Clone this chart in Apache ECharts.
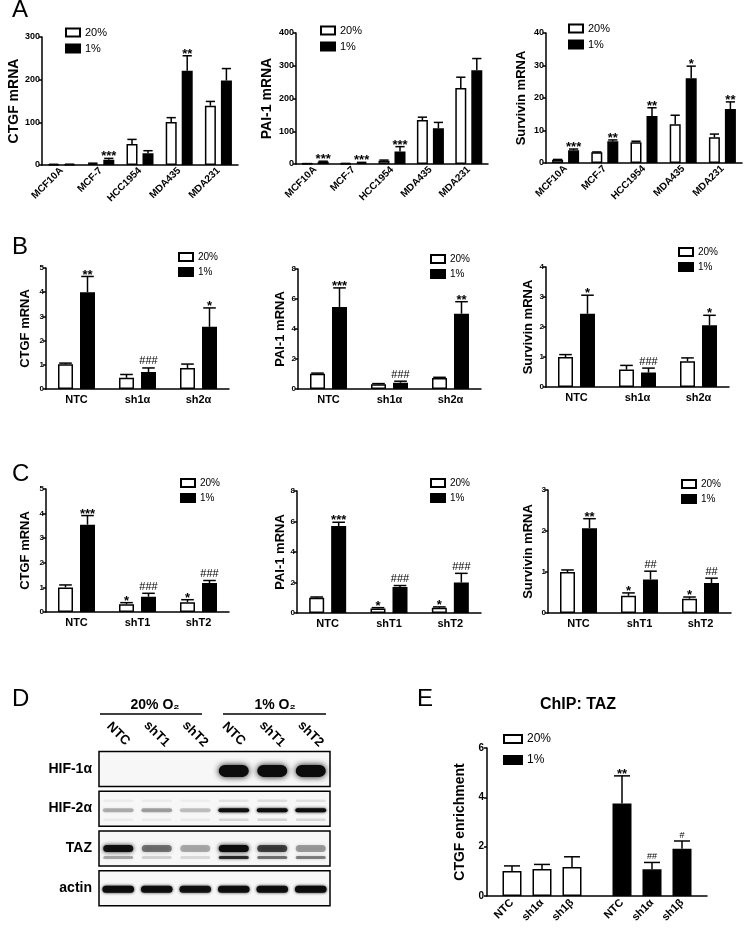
<!DOCTYPE html>
<html><head><meta charset="utf-8">
<script src="https://cdn.jsdelivr.net/npm/echarts@6/dist/echarts.min.js"></script>
<style>html,body{margin:0;padding:0;background:#fff}#c{width:750px;height:939px}</style>
</head><body><div id="c"></div>
<script>
const FONT = '"Liberation Sans", Arial, Helvetica, sans-serif';
const legendNames = ['20%', '1%'];

// ---------- Panel A ----------
const catA = ['MCF10A', 'MCF-7', 'HCC1954', 'MDA435', 'MDA231'];
const A_ctgf_20 = [1.2, 3.5, 49, 101, 139];
const A_ctgf_20_err = [0.4, 0.8, 11, 10, 10];
const A_ctgf_1 = [1.5, 12.5, 27.5, 221, 198];
const A_ctgf_1_err = [0.4, 3, 6, 35, 28];
const A_ctgf_sig20 = ['', '', '', '', ''];
const A_ctgf_sig1 = ['', '***', '', '**', ''];

const A_pai_20 = [1, 1.5, 10, 134, 232];
const A_pai_20_err = [0.3, 0.3, 2, 9, 33];
const A_pai_1 = [7, 4, 38, 109, 286];
const A_pai_1_err = [1.5, 1, 15, 18, 36];
const A_pai_sig20 = ['', '', '', '', ''];
const A_pai_sig1 = ['***', '***', '***', '', ''];

const A_surv_20 = [1, 3.3, 6.4, 11.9, 7.9];
const A_surv_20_err = [0.1, 0.1, 0.3, 2.8, 1];
const A_surv_1 = [3.9, 6.7, 14.5, 26.1, 16.6];
const A_surv_1_err = [0.4, 0.4, 2.5, 3.7, 2.2];
const A_surv_sig20 = ['', '', '', '', ''];
const A_surv_sig1 = ['***', '**', '**', '*', '**'];

// ---------- Panel B ----------
const catB = ['NTC', 'sh1α', 'sh2α'];
const B_ctgf_20 = [1.02, 0.46, 0.87];
const B_ctgf_20_err = [0.05, 0.14, 0.16];
const B_ctgf_1 = [4.0, 0.7, 2.57];
const B_ctgf_1_err = [0.65, 0.17, 0.78];
const B_ctgf_sig20 = ['', '', ''];
const B_ctgf_sig1 = ['**', '###', '*'];

const B_pai_20 = [1.02, 0.31, 0.73];
const B_pai_20_err = [0.04, 0.05, 0.05];
const B_pai_1 = [5.47, 0.42, 5.02];
const B_pai_1_err = [1.27, 0.1, 0.8];
const B_pai_sig20 = ['', '', ''];
const B_pai_sig1 = ['***', '###', '**'];

const B_surv_20 = [1.0, 0.58, 0.86];
const B_surv_20_err = [0.08, 0.14, 0.11];
const B_surv_1 = [2.44, 0.48, 2.06];
const B_surv_1_err = [0.62, 0.15, 0.33];
const B_surv_sig20 = ['', '', ''];
const B_surv_sig1 = ['*', '###', '*'];

// ---------- Panel C ----------
const catC = ['NTC', 'shT1', 'shT2'];
const C_ctgf_20 = [1.0, 0.32, 0.4];
const C_ctgf_20_err = [0.1, 0.06, 0.1];
const C_ctgf_1 = [3.55, 0.62, 1.18];
const C_ctgf_1_err = [0.37, 0.14, 0.1];
const C_ctgf_sig20 = ['', '*', '*'];
const C_ctgf_sig1 = ['***', '###', '###'];

const C_pai_20 = [1.0, 0.3, 0.35];
const C_pai_20_err = [0.05, 0.05, 0.05];
const C_pai_1 = [5.7, 1.7, 2.0];
const C_pai_1_err = [0.25, 0.1, 0.6];
const C_pai_sig20 = ['', '*', '*'];
const C_pai_sig1 = ['***', '###', '###'];

const C_surv_20 = [1.0, 0.42, 0.35];
const C_surv_20_err = [0.05, 0.07, 0.04];
const C_surv_1 = [2.07, 0.82, 0.73];
const C_surv_1_err = [0.23, 0.2, 0.12];
const C_surv_sig20 = ['', '*', '*'];
const C_surv_sig1 = ['**', '##', '##'];

// ---------- Panel D (western blot band intensities, 0..1) ----------
const lanes = ['NTC', 'shT1', 'shT2', 'NTC', 'shT1', 'shT2'];
const blotRows = ['HIF-1α', 'HIF-2α', 'TAZ', 'actin'];
const hif1aBand = [0.0, 0.0, 0.0, 1.0, 1.0, 1.0];
const hif2aBand = [0.28, 0.33, 0.22, 0.95, 1.0, 1.0];
const hif2aFaintUp = [0.05, 0.05, 0.04, 0.08, 0.1, 0.09];
const hif2aFaintLow = [0.05, 0.05, 0.05, 0.12, 0.14, 0.12];
const tazUpper = [0.95, 0.5, 0.3, 1.0, 0.7, 0.35];
const tazLower = [0.3, 0.15, 0.12, 0.8, 0.5, 0.45];
const actinBand = [1.0, 0.95, 0.92, 0.95, 0.95, 1.0];

// ---------- Panel E ----------
const E_names = ['NTC', 'sh1α', 'sh1β'];
const E_20 = [1.01, 1.09, 1.18];
const E_20_err = [0.21, 0.19, 0.41];
const E_1 = [3.75, 1.08, 1.92];
const E_1_err = [1.12, 0.28, 0.31];
const E_sig20 = ['', '', ''];
const E_sig1 = ['**', '##', '#'];

// ================= build option =================
const option = {
  animation: false, backgroundColor: '#fff',
  textStyle: { fontFamily: FONT },
  grid: [], xAxis: [], yAxis: [], series: [], legend: [], graphic: []
};

const white = { color: '#fff', borderColor: '#000', borderWidth: 1.5 };
const black = { color: '#000', borderColor: '#000', borderWidth: 1.5 };

function errSeries(gi, items, sigs, off, cap, sz) {
  return {
    type: 'custom', xAxisIndex: gi, yAxisIndex: gi, z: 5, silent: true, clip: false,
    data: items,
    renderItem: function (params, api) {
      const c = api.value(0), v = api.value(1), e = api.value(2), s = api.value(3);
      const p0 = api.coord([c, v]), p1 = api.coord([c, v + e]);
      const x = p0[0] + off[s];
      const ch = [];
      if (e > 0) {
        ch.push({ type: 'line', shape: { x1: x, y1: p0[1], x2: x, y2: p1[1] }, style: { stroke: '#000', lineWidth: 1.5 } });
        ch.push({ type: 'line', shape: { x1: x - cap, y1: p1[1], x2: x + cap, y2: p1[1] }, style: { stroke: '#000', lineWidth: 1.5 } });
      }
      const t = sigs[params.dataIndex];
      if (t) {
        const hash = t[0] === '#';
        ch.push({ type: 'text', style: {
          text: t, x: x, y: p1[1] + (hash ? -1 : 5), align: 'center', verticalAlign: 'bottom',
          fontSize: hash ? sz.hash : sz.star, fontWeight: hash ? 'normal' : 'bold', fontFamily: FONT, fill: '#000'
        } });
      }
      return { type: 'group', children: ch };
    }
  };
}

function addGrouped(p) {
  const gi = option.grid.length;
  option.grid.push({ left: p.left, top: p.top, width: p.width, height: p.height });
  option.xAxis.push({
    type: 'category', gridIndex: gi, data: p.cats,
    axisLine: { lineStyle: { color: '#000', width: 1.5 } },
    axisTick: { alignWithLabel: true, length: 3, lineStyle: { color: '#000', width: 1.5 } },
    axisLabel: { interval: 0, rotate: p.rotate, fontSize: p.xfs, fontWeight: 'bold', color: '#000', margin: p.xm, fontFamily: FONT }
  });
  option.yAxis.push({
    type: 'value', gridIndex: gi, min: 0, max: p.max, interval: p.interval,
    name: p.name, nameLocation: 'middle', nameGap: p.nameGap,
    nameTextStyle: { fontSize: p.nfs, fontWeight: 'bold', color: '#000', fontFamily: FONT },
    axisLine: { show: true, lineStyle: { color: '#000', width: 1.5 } },
    axisTick: { show: true, length: 3, lineStyle: { color: '#000', width: 1.5 } },
    axisLabel: { fontSize: p.yfs, fontWeight: 'bold', color: '#000', margin: 2, fontFamily: FONT },
    splitLine: { show: false }
  });
  const gapPct = (p.gap / p.bw * 100) + '%';
  option.series.push({ type: 'bar', name: '20%', xAxisIndex: gi, yAxisIndex: gi, data: p.v20, barWidth: p.bw, barGap: gapPct, itemStyle: white, silent: true });
  option.series.push({ type: 'bar', name: '1%', xAxisIndex: gi, yAxisIndex: gi, data: p.v1, barWidth: p.bw, barGap: gapPct, itemStyle: black, silent: true });
  const items = [], sigs = [];
  p.cats.forEach((c, j) => {
    items.push([j, p.v20[j], p.e20[j], 0]); sigs.push(p.s20[j]);
    items.push([j, p.v1[j], p.e1[j], 1]); sigs.push(p.s1[j]);
  });
  const h = (p.bw + p.gap) / 2;
  option.series.push(errSeries(gi, items, sigs, [-h, h], p.bw * 0.42, { star: 13, hash: 11 }));
  option.legend.push({
    left: p.lg[0], top: p.lg[1], orient: 'vertical', padding: 0,
    itemWidth: 14, itemHeight: 8, itemGap: 5, selectedMode: false, icon: 'rect',
    data: legendNames, textStyle: { fontSize: p.lfs, color: '#000', fontFamily: FONT }
  });
}

const rowA = { rotate: 45, xfs: 10, xm: 4, yfs: 9, bw: 11, gap: 5, lfs: 11 };
const rowBC = { rotate: 0, xfs: 11, xm: 5, yfs: 8, bw: 15, gap: 7, lfs: 10 };

addGrouped(Object.assign({}, rowA, { left: 42, top: 37, width: 196, height: 128, cats: catA, max: 300, interval: 100,
  name: 'CTGF mRNA', nameGap: 18, nfs: 14, v20: A_ctgf_20, e20: A_ctgf_20_err, v1: A_ctgf_1, e1: A_ctgf_1_err,
  s20: A_ctgf_sig20, s1: A_ctgf_sig1, lg: [65, 27] }));
addGrouped(Object.assign({}, rowA, { left: 296, top: 33, width: 192, height: 131, cats: catA, max: 400, interval: 100,
  name: 'PAI-1 mRNA', nameGap: 22, nfs: 14, v20: A_pai_20, e20: A_pai_20_err, v1: A_pai_1, e1: A_pai_1_err,
  s20: A_pai_sig20, s1: A_pai_sig1, lg: [320, 25] }));
addGrouped(Object.assign({}, rowA, { left: 546, top: 33, width: 196, height: 130, cats: catA, max: 40, interval: 10,
  name: 'Survivin mRNA', nameGap: 18, nfs: 13, v20: A_surv_20, e20: A_surv_20_err, v1: A_surv_1, e1: A_surv_1_err,
  s20: A_surv_sig20, s1: A_surv_sig1, lg: [568, 23] }));

addGrouped(Object.assign({}, rowBC, { left: 46, top: 268, width: 183, height: 121, cats: catB, max: 5, interval: 1,
  name: 'CTGF mRNA', nameGap: 14, nfs: 13, v20: B_ctgf_20, e20: B_ctgf_20_err, v1: B_ctgf_1, e1: B_ctgf_1_err,
  s20: B_ctgf_sig20, s1: B_ctgf_sig1, lg: [178, 252] }));
addGrouped(Object.assign({}, rowBC, { left: 298, top: 269, width: 183, height: 120, cats: catB, max: 8, interval: 2,
  name: 'PAI-1 mRNA', nameGap: 11, nfs: 13, v20: B_pai_20, e20: B_pai_20_err, v1: B_pai_1, e1: B_pai_1_err,
  s20: B_pai_sig20, s1: B_pai_sig1, lg: [430, 254] }));
addGrouped(Object.assign({}, rowBC, { left: 546, top: 267, width: 183, height: 120, cats: catB, max: 4, interval: 1,
  name: 'Survivin mRNA', nameGap: 11, nfs: 13, v20: B_surv_20, e20: B_surv_20_err, v1: B_surv_1, e1: B_surv_1_err,
  s20: B_surv_sig20, s1: B_surv_sig1, lg: [678, 247] }));

addGrouped(Object.assign({}, rowBC, { left: 46, top: 489, width: 183, height: 123, cats: catC, max: 5, interval: 1,
  name: 'CTGF mRNA', nameGap: 14, nfs: 13, v20: C_ctgf_20, e20: C_ctgf_20_err, v1: C_ctgf_1, e1: C_ctgf_1_err,
  s20: C_ctgf_sig20, s1: C_ctgf_sig1, lg: [180, 478] }));
addGrouped(Object.assign({}, rowBC, { left: 297, top: 491, width: 184, height: 122, cats: catC, max: 8, interval: 2,
  name: 'PAI-1 mRNA', nameGap: 10, nfs: 13, v20: C_pai_20, e20: C_pai_20_err, v1: C_pai_1, e1: C_pai_1_err,
  s20: C_pai_sig20, s1: C_pai_sig1, lg: [430, 478] }));
addGrouped(Object.assign({}, rowBC, { left: 548, top: 490, width: 183, height: 123, cats: catC, max: 3, interval: 1,
  name: 'Survivin mRNA', nameGap: 13, nfs: 13, v20: C_surv_20, e20: C_surv_20_err, v1: C_surv_1, e1: C_surv_1_err,
  s20: C_surv_sig20, s1: C_surv_sig1, lg: [681, 479] }));

// ---------- Panel E (slot-based category axis to reproduce the grouped spacing) ----------
(function () {
  const nSlots = 22, slot20 = [2, 5, 8], slot1 = [13, 16, 19];
  const slots = new Array(nSlots).fill('');
  const d20 = new Array(nSlots).fill(null), d1 = new Array(nSlots).fill(null);
  const items = [], sigs = [];
  E_names.forEach((n, j) => {
    slots[slot20[j]] = n; slots[slot1[j]] = n;
    d20[slot20[j]] = E_20[j]; d1[slot1[j]] = E_1[j];
    items.push([slot20[j], E_20[j], E_20_err[j], 0]); sigs.push(E_sig20[j]);
    items.push([slot1[j], E_1[j], E_1_err[j], 1]); sigs.push(E_sig1[j]);
  });
  const gi = option.grid.length;
  const hasLabel = (i, v) => v !== '';
  option.grid.push({ left: 487, top: 748, width: 220, height: 148 });
  option.xAxis.push({
    type: 'category', gridIndex: gi, data: slots,
    axisLine: { lineStyle: { color: '#000', width: 1.5 } },
    axisTick: { alignWithLabel: true, interval: hasLabel, length: 3, lineStyle: { color: '#000', width: 1.5 } },
    axisLabel: { interval: hasLabel, rotate: 45, fontSize: 11, fontWeight: 'bold', color: '#000', margin: 5, fontFamily: FONT }
  });
  option.yAxis.push({
    type: 'value', gridIndex: gi, min: 0, max: 6, interval: 2,
    name: 'CTGF enrichment', nameLocation: 'middle', nameGap: 20,
    nameTextStyle: { fontSize: 14, fontWeight: 'bold', color: '#000', fontFamily: FONT },
    axisLine: { show: true, lineStyle: { color: '#000', width: 1.5 } },
    axisTick: { show: true, length: 3, lineStyle: { color: '#000', width: 1.5 } },
    axisLabel: { fontSize: 10, fontWeight: 'bold', color: '#000', margin: 3, fontFamily: FONT },
    splitLine: { show: false }
  });
  option.series.push({ type: 'bar', name: '20%', xAxisIndex: gi, yAxisIndex: gi, data: d20, barWidth: 19, barGap: '-100%', itemStyle: white, silent: true });
  option.series.push({ type: 'bar', name: '1%', xAxisIndex: gi, yAxisIndex: gi, data: d1, barWidth: 19, barGap: '-100%', itemStyle: black, silent: true });
  option.series.push(errSeries(gi, items, sigs, [0, 0], 8, { star: 13, hash: 9 }));
  option.legend.push({
    left: 503, top: 733, orient: 'vertical', padding: 0,
    itemWidth: 18, itemHeight: 8, itemGap: 9, selectedMode: false, icon: 'rect',
    data: legendNames, textStyle: { fontSize: 12, color: '#000', fontFamily: FONT }
  });
})();

// ---------- Panel D (blot drawn as custom series on a lane x row grid) ----------
(function () {
  const gi = option.grid.length;
  option.grid.push({ left: 99, top: 749, width: 231, height: 159 });
  option.xAxis.push({
    type: 'category', gridIndex: gi, data: lanes, position: 'top',
    axisLine: { show: false }, axisTick: { show: false },
    axisLabel: { interval: 0, rotate: 45, align: 'center', verticalAlign: 'middle', margin: 15,
      fontSize: 13, fontWeight: 'bold', color: '#000', fontFamily: FONT }
  });
  option.yAxis.push({
    type: 'category', gridIndex: gi, data: blotRows, inverse: true,
    axisLine: { show: false }, axisTick: { show: false },
    axisLabel: { fontSize: 14, fontWeight: 'bold', color: '#000', margin: 7, fontFamily: FONT }
  });
  // band drawing style per band kind (row, vertical offset px, thickness px, width fraction, blur)
  const bandStyle = [
    { row: 0, dy: 2, h: 12, w: 0.78, blur: 6 },
    { row: 1, dy: 1.5, h: 4, w: 0.8, blur: 3 },
    { row: 1, dy: -8, h: 2.5, w: 0.78, blur: 3 },
    { row: 1, dy: 11, h: 2.5, w: 0.78, blur: 3 },
    { row: 2, dy: 0, h: 7, w: 0.78, blur: 4 },
    { row: 2, dy: 9, h: 3, w: 0.78, blur: 3 },
    { row: 3, dy: 1, h: 7, w: 0.82, blur: 3 }
  ];
  const bandValues = [hif1aBand, hif2aBand, hif2aFaintUp, hif2aFaintLow, tazUpper, tazLower, actinBand];
  const bands = [];
  bandValues.forEach((arr, k) => arr.forEach((a, l) => { if (a > 0) bands.push([l, bandStyle[k].row, a, k]); }));
  const frames = blotRows.map((r, i) => [0, i]);
  option.series.push({
    type: 'custom', xAxisIndex: gi, yAxisIndex: gi, z: 2, silent: true, clip: false, data: frames,
    renderItem: function (params, api) {
      const c = api.coord([api.value(0), api.value(1)]);
      const lw = api.size([1, 0])[0];
      return { type: 'rect', shape: { x: c[0] - lw / 2, y: c[1] - 17.5, width: lw * lanes.length, height: 35 },
        style: { fill: '#f7f7f7', stroke: '#000', lineWidth: 1.5 } };
    }
  });
  option.series.push({
    type: 'custom', xAxisIndex: gi, yAxisIndex: gi, z: 3, silent: true, clip: false, data: bands,
    renderItem: function (params, api) {
      const l = api.value(0), r = api.value(1), a = api.value(2), k = api.value(3);
      const st = bandStyle[k];
      const c = api.coord([l, r]);
      const lw = api.size([1, 0])[0];
      const w = lw * st.w;
      const col = 'rgba(12,12,12,' + a + ')';
      return { type: 'rect', shape: { x: c[0] - w / 2, y: c[1] + st.dy - st.h / 2, width: w, height: st.h, r: st.h / 2 },
        style: { fill: col, shadowBlur: st.blur, shadowColor: col } };
    }
  });
})();

// ---------- free text: panel letters, blot headers, E title ----------
const letter = (t, x, y) => ({ type: 'text', x: x, y: y, style: { text: t, fontSize: 24, fontFamily: FONT, fill: '#000', verticalAlign: 'top' } });
option.graphic.push(letter('A', 12, -2), letter('B', 12, 235), letter('C', 12, 462), letter('D', 12, 687), letter('E', 417, 687));
option.graphic.push(
  { type: 'text', x: 155, y: 705, style: { text: '20% O₂', fontSize: 14, fontWeight: 'bold', fontFamily: FONT, fill: '#000', align: 'center', verticalAlign: 'middle' } },
  { type: 'text', x: 275, y: 705, style: { text: '1% O₂', fontSize: 14, fontWeight: 'bold', fontFamily: FONT, fill: '#000', align: 'center', verticalAlign: 'middle' } },
  { type: 'line', shape: { x1: 100, y1: 714, x2: 202, y2: 714 }, style: { stroke: '#000', lineWidth: 1.5 } },
  { type: 'line', shape: { x1: 223, y1: 714, x2: 326, y2: 714 }, style: { stroke: '#000', lineWidth: 1.5 } },
  { type: 'text', x: 578, y: 705, style: { text: 'ChIP: TAZ', fontSize: 16, fontWeight: 'bold', fontFamily: FONT, fill: '#000', align: 'center', verticalAlign: 'middle' } }
);

const chart = echarts.init(document.getElementById('c'), null, { renderer: 'canvas' });
chart.setOption(option);
</script></body></html>
